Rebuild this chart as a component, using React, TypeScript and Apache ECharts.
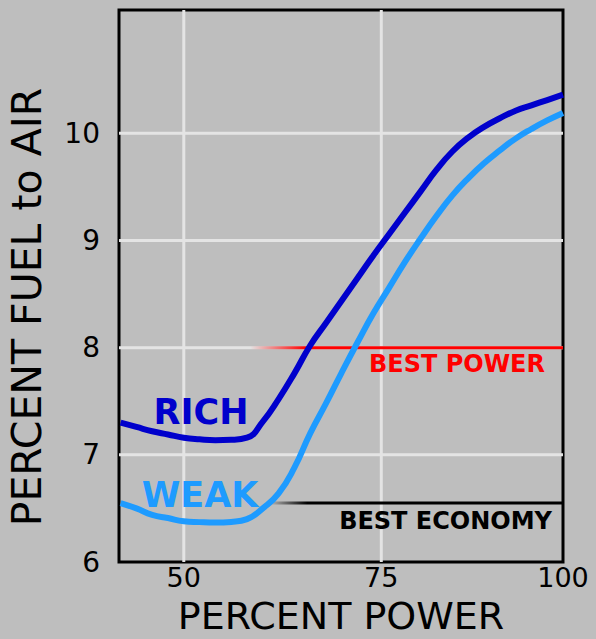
import React, { useEffect, useRef } from 'react';
import * as echarts from 'echarts';

// ---- data ----
const powerSteps = [42, 44, 46, 48, 50, 52, 54, 56, 58, 60, 62, 64, 66, 68, 70, 72, 74, 76, 78, 80, 82, 84, 86, 88, 90, 92, 94, 96, 98];
const richFuel = [7.30, 7.26, 7.22, 7.19, 7.16, 7.145, 7.137, 7.14, 7.16, 7.31, 7.52, 7.76, 8.02, 8.23, 8.44, 8.65, 8.86, 9.06, 9.26, 9.46, 9.66, 9.83, 9.96, 10.06, 10.14, 10.21, 10.26, 10.31, 10.36];
const weakFuel = [6.55, 6.50, 6.44, 6.41, 6.38, 6.372, 6.368, 6.374, 6.40, 6.50, 6.64, 6.88, 7.20, 7.48, 7.77, 8.05, 8.32, 8.56, 8.80, 9.02, 9.23, 9.42, 9.58, 9.72, 9.84, 9.95, 10.04, 10.12, 10.19];

const xTickValues = [50, 75, 98];
const xTickLabels = ['50', '75', '100'];
const yTickValues = [6, 7, 8, 9, 10];
const gridXValues = [50, 75];
const gridYValues = [7, 8, 9, 10];

const refNames = ['BEST POWER', 'BEST ECONOMY'];
const refLevels = [8.0, 6.55];
const refStart = [58.4, 60.7];
const refFull = [65.4, 65.6];
const refEnd = [98, 98];

const X_MIN = 41.8;
const X_MAX = 98;
const Y_MIN = 6;
const Y_MAX = 11.15;

// ---- styles ----
const FONT = 'DejaVu Sans';
const RICH_COLOR = '#0000cc';
const WEAK_COLOR = '#1e9bff';
const REF_COLORS = ['#ff0000', '#000000'];
const REF_FADE = ['rgba(255,0,0,0)', 'rgba(0,0,0,0)'];
const GRID_COLOR = '#e4e4e4';

export default function App() {
  const ref = useRef<HTMLDivElement>(null);

  useEffect(() => {
    const chart = echarts.init(ref.current as HTMLDivElement, null, { renderer: 'svg' });

    const option: any = {
      animation: false,
      backgroundColor: '#bebebe',
      grid: {
        left: 119,
        top: 10,
        width: 444,
        height: 552,
        outerBoundsMode: 'none',
        containLabel: false,
        show: true,
        borderColor: '#000',
        borderWidth: 3,
        backgroundColor: 'transparent',
      },
      xAxis: {
        type: 'value',
        min: X_MIN,
        max: X_MAX,
        axisLine: { show: false },
        axisTick: { show: false },
        splitLine: { show: false },
        axisLabel: {
          customValues: xTickValues,
          formatter: (v: number) => {
            const i = xTickValues.indexOf(v);
            return i >= 0 ? xTickLabels[i] : '';
          },
          fontSize: 27,
          lineHeight: 27,
          fontFamily: FONT,
          color: '#000',
          margin: 2,
        },
        name: 'PERCENT POWER',
        nameLocation: 'middle',
        nameGap: 35,
        nameMoveOverlap: false,
        nameTextStyle: { fontSize: 38, fontFamily: FONT, color: '#000', lineHeight: 38 },
      },
      yAxis: {
        type: 'value',
        min: Y_MIN,
        max: Y_MAX,
        axisLine: { show: false },
        axisTick: { show: false },
        splitLine: { show: false },
        axisLabel: {
          customValues: yTickValues,
          formatter: (v: number) => String(v),
          fontSize: 28,
          fontFamily: FONT,
          color: '#000',
          margin: 19,
        },
      },
      graphic: [
        {
          type: 'text',
          x: 27,
          y: 307,
          rotation: Math.PI / 2,
          style: {
            text: 'PERCENT FUEL to AIR',
            font: `41px "${FONT}"`,
            fill: '#000',
            align: 'center',
            verticalAlign: 'middle',
          },
        },
        {
          type: 'text',
          x: 201,
          y: 412,
          z: 10,
          style: {
            text: 'RICH',
            font: `bold 35px "${FONT}"`,
            fill: RICH_COLOR,
            align: 'center',
            verticalAlign: 'middle',
          },
        },
        {
          type: 'text',
          x: 200,
          y: 495,
          z: 10,
          style: {
            text: 'WEAK',
            font: `bold 35px "${FONT}"`,
            fill: WEAK_COLOR,
            align: 'center',
            verticalAlign: 'middle',
          },
        },
        {
          type: 'text',
          x: 545,
          y: 364,
          z: 10,
          style: {
            text: refNames[0],
            font: `bold 24px "${FONT}"`,
            fill: REF_COLORS[0],
            align: 'right',
            verticalAlign: 'middle',
          },
        },
        {
          type: 'text',
          x: 552,
          y: 521,
          z: 10,
          style: {
            text: refNames[1],
            font: `bold 24px "${FONT}"`,
            fill: REF_COLORS[1],
            align: 'right',
            verticalAlign: 'middle',
          },
        },
      ],
      series: [
        {
          type: 'custom',
          name: 'gridX',
          silent: true,
          z: 1,
          data: gridXValues.map((v) => [v, Y_MIN]),
          encode: { x: 0, y: 1 },
          renderItem: (params: any, api: any) => {
            const a = api.coord([api.value(0), Y_MAX]);
            const b = api.coord([api.value(0), Y_MIN]);
            return {
              type: 'line',
              shape: { x1: a[0], y1: a[1], x2: b[0], y2: b[1] },
              style: { stroke: GRID_COLOR, lineWidth: 3 },
            };
          },
        },
        {
          type: 'custom',
          name: 'gridY',
          silent: true,
          z: 1,
          data: gridYValues.map((v) => [X_MIN, v]),
          encode: { x: 0, y: 1 },
          renderItem: (params: any, api: any) => {
            const a = api.coord([X_MIN, api.value(1)]);
            const b = api.coord([X_MAX, api.value(1)]);
            return {
              type: 'line',
              shape: { x1: a[0], y1: a[1], x2: b[0], y2: b[1] },
              style: { stroke: GRID_COLOR, lineWidth: 3 },
            };
          },
        },
        {
          type: 'custom',
          name: 'reference',
          silent: true,
          z: 2,
          data: refLevels.map((y, i) => [refStart[i], y, refFull[i], refEnd[i]]),
          encode: { x: [0, 2, 3], y: 1 },
          renderItem: (params: any, api: any) => {
            const y = api.value(1);
            const p0 = api.coord([api.value(0), y]);
            const p1 = api.coord([api.value(2), y]);
            const p2 = api.coord([api.value(3), y]);
            const i = params.dataIndex;
            return {
              type: 'line',
              shape: { x1: p0[0], y1: p0[1], x2: p2[0], y2: p2[1] },
              style: {
                stroke: new echarts.graphic.LinearGradient(
                  p0[0], 0, p1[0], 0,
                  [
                    { offset: 0, color: REF_FADE[i] },
                    { offset: 1, color: REF_COLORS[i] },
                  ],
                  true
                ),
                lineWidth: 3,
              },
            };
          },
        },
        {
          type: 'line',
          name: 'RICH',
          z: 3,
          data: powerSteps.map((x, i) => [x, richFuel[i]]),
          smooth: 0.5,
          showSymbol: false,
          symbol: 'none',
          lineStyle: { color: RICH_COLOR, width: 6 },
        },
        {
          type: 'line',
          name: 'WEAK',
          z: 3,
          data: powerSteps.map((x, i) => [x, weakFuel[i]]),
          smooth: 0.5,
          showSymbol: false,
          symbol: 'none',
          lineStyle: { color: WEAK_COLOR, width: 6 },
        },
      ],
    };

    chart.setOption(option);
    return () => {
      chart.dispose();
    };
  }, []);

  return (
    <div
      ref={ref}
      style={{ position: 'fixed', left: 0, top: 0, width: 596, height: 639 }}
    />
  );
}
